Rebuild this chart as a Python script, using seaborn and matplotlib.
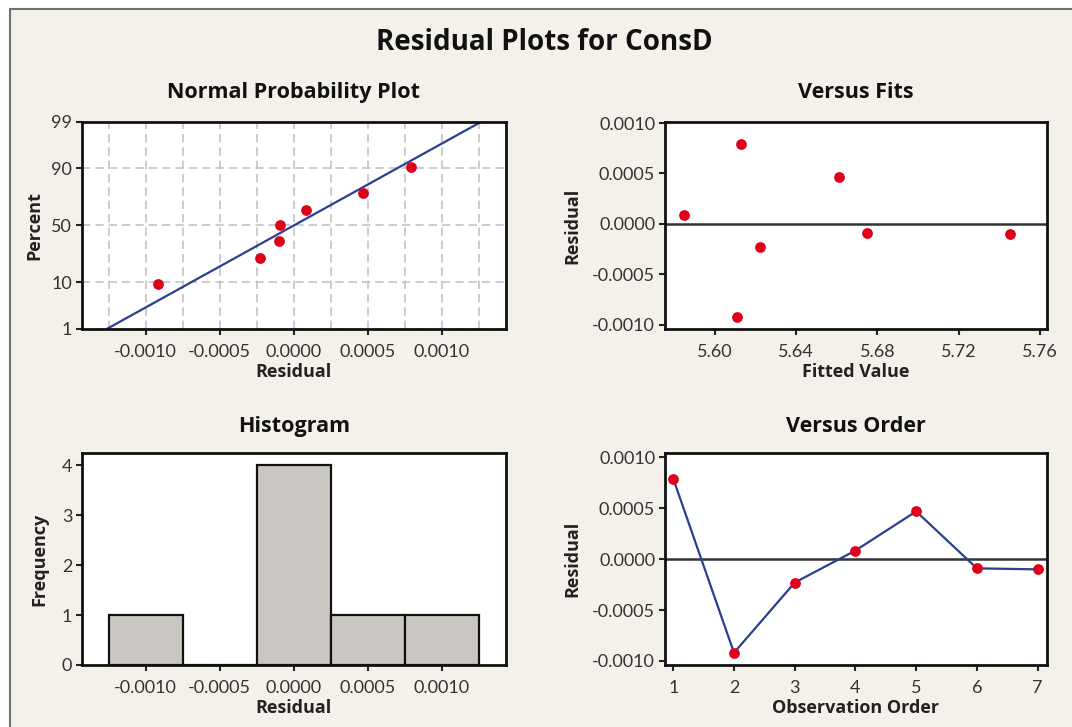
import matplotlib
matplotlib.use("Agg")
import matplotlib.pyplot as plt
import seaborn as sns
import pandas as pd
from statistics import NormalDist, mean, stdev
from matplotlib.patches import Rectangle

# residuals in observation order, with the fitted value of each run
observation = [1, 2, 3, 4, 5, 6, 7]
residual = [0.00079, -0.00092, -0.00023, 0.000085, 0.00047, -0.00009, -0.0001]
fitted = [5.613, 5.611, 5.622, 5.585, 5.661, 5.675, 5.745]
# percent positions of the sorted residuals on the normal plot
percent = [9.5, 23.0, 36.5, 50.0, 63.5, 77.0, 90.5]

pct_ticks = [1, 10, 50, 90, 99]
resid_ticks = [-0.0010, -0.0005, 0.0000, 0.0005, 0.0010]
resid_grid = [-0.00125, -0.00075, -0.00025, 0.00025, 0.00075, 0.00125]
fit_ticks = [5.60, 5.64, 5.68, 5.72, 5.76]
freq_ticks = [0, 1, 2, 3, 4]
bin_edges = [-0.00125, -0.00075, -0.00025, 0.00025, 0.00075, 0.00125]

RED = "#e0001a"
BLUE = "#2b3f92"
BG = "#f4f1ea"

sns.set_theme(style="ticks")
plt.rcParams['font.family'] = ['Lato', 'DejaVu Sans']
plt.rcParams['axes.unicode_minus'] = False

df = pd.DataFrame({"obs": observation, "resid": residual, "fit": fitted})
z = [NormalDist().inv_cdf(p / 100) for p in percent]
npp = pd.DataFrame({"resid": sorted(residual), "z": z})

fig = plt.figure(figsize=(10.72, 7.27), dpi=100, facecolor="white")
fig.patches.append(Rectangle((10 / 1072, -0.1), 1.2, 1.1 - 9 / 727,
                             transform=fig.transFigure, facecolor=BG,
                             edgecolor="#707070", linewidth=1.5, zorder=-10))

ax1 = fig.add_axes([0.0765, 0.5475, 0.3955, 0.2847])
ax2 = fig.add_axes([0.6203, 0.5475, 0.3563, 0.2847])
ax3 = fig.add_axes([0.0765, 0.0853, 0.3955, 0.2916])
ax4 = fig.add_axes([0.6203, 0.0853, 0.3563, 0.2916])

title_kw = dict(fontsize=15.5, fontweight="bold", color="#111111",
                family=["Open Sans", "DejaVu Sans"])
label_kw = dict(fontsize=13, fontweight="bold", color="#222222",
                family=["Open Sans", "DejaVu Sans"])


def style(ax):
    ax.set_facecolor("white")
    for s in ax.spines.values():
        s.set_visible(True)
        s.set_linewidth(2)
        s.set_color("#111111")
    ax.tick_params(axis="both", which="major", direction="out", length=4,
                   width=1.5, color="#222222", labelsize=13,
                   labelcolor="#333333", pad=3)
    ax.tick_params(axis="x", which="major", pad=7)


# normal probability plot
zlim = NormalDist().inv_cdf(0.99)
mu, sd = mean(residual), stdev(residual)
line = pd.DataFrame({"x": [mu - sd * zlim, mu + sd * zlim], "z": [-zlim, zlim]})
ax1.set_axisbelow(True)
sns.lineplot(data=line, x="x", y="z", color=BLUE, linewidth=1.6, ax=ax1)
sns.scatterplot(data=npp, x="resid", y="z", color=RED, s=60, edgecolor=RED,
                linewidth=0, ax=ax1, zorder=3)
ax1.set_xlim(-0.00143, 0.001434)
ax1.set_ylim(-zlim, zlim)
ax1.set_xticks(resid_ticks)
ax1.set_xticklabels([f"{t:.4f}" for t in resid_ticks])
ax1.set_xticks(resid_grid, minor=True)
ax1.set_yticks([NormalDist().inv_cdf(p / 100) for p in pct_ticks])
ax1.set_yticklabels([str(p) for p in pct_ticks])
style(ax1)
ax1.tick_params(which="minor", length=0)
ax1.grid(True, which="both", axis="x", color="#c4c4c4", linewidth=1.2,
         linestyle=(0, (5, 3)))
ax1.grid(True, which="major", axis="y", color="#c4c4c4", linewidth=1.2,
         linestyle=(0, (5, 3)))
ax1.set_title("Normal Probability Plot", pad=17, **title_kw)
ax1.set_xlabel("Residual", labelpad=2, **label_kw)
ax1.set_ylabel("Percent", labelpad=6, **label_kw)

# versus fits
ax2.axhline(0, color="#333333", linewidth=1.8, zorder=1)
sns.scatterplot(data=df, x="fit", y="resid", color=RED, s=60, edgecolor=RED,
                linewidth=0, ax=ax2, zorder=3)
ax2.set_xlim(5.5754, 5.7634)
ax2.set_ylim(-0.00104, 0.00101)
ax2.set_xticks(fit_ticks)
ax2.set_xticklabels([f"{t:.2f}" for t in fit_ticks])
ax2.set_yticks(resid_ticks)
ax2.set_yticklabels([f"{t:.4f}" for t in resid_ticks])
style(ax2)
ax2.set_title("Versus Fits", pad=17, **title_kw)
ax2.set_xlabel("Fitted Value", labelpad=2, **label_kw)
ax2.set_ylabel("Residual", labelpad=8, **label_kw)

# histogram
sns.histplot(data=df, x="resid", bins=bin_edges, color="#cbc8c4", alpha=1,
             edgecolor="#111111", linewidth=1.6, ax=ax3)
ax3.set_xlim(-0.00143, 0.001434)
ax3.set_ylim(0, 4.25)
ax3.set_xticks(resid_ticks)
ax3.set_xticklabels([f"{t:.4f}" for t in resid_ticks])
ax3.set_yticks(freq_ticks)
style(ax3)
ax3.set_title("Histogram", pad=15, **title_kw)
ax3.set_xlabel("Residual", labelpad=2, **label_kw)
ax3.set_ylabel("Frequency", labelpad=10, **label_kw)

# versus order
ax4.axhline(0, color="#333333", linewidth=1.8, zorder=1)
sns.lineplot(data=df, x="obs", y="resid", color=BLUE, linewidth=1.6, ax=ax4,
             zorder=2)
sns.scatterplot(data=df, x="obs", y="resid", color=RED, s=60, edgecolor=RED,
                linewidth=0, ax=ax4, zorder=3)
ax4.set_xlim(0.863, 7.153)
ax4.set_ylim(-0.00104, 0.001044)
ax4.set_xticks(observation)
ax4.set_yticks(resid_ticks)
ax4.set_yticklabels([f"{t:.4f}" for t in resid_ticks])
style(ax4)
ax4.set_title("Versus Order", pad=15, **title_kw)
ax4.set_xlabel("Observation Order", labelpad=2, **label_kw)
ax4.set_ylabel("Residual", labelpad=8, **label_kw)

fig.text(0.5075, 1 - 42 / 727, "Residual Plots for ConsD", ha="center",
         va="center", fontsize=20, fontweight="bold", color="#111111",
         family=["Open Sans", "DejaVu Sans"])

fig.savefig("out.png", dpi=100, facecolor=fig.get_facecolor())
